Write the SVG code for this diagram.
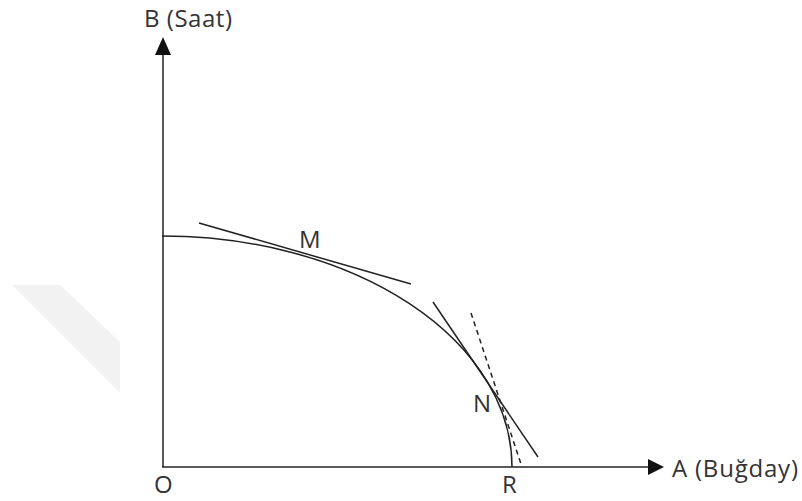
<svg xmlns="http://www.w3.org/2000/svg" width="802" height="501" viewBox="0 0 802 501">
<style>
.ln{stroke:#222;stroke-width:1.5;fill:none}
.t{font-family:"Open Sans","Liberation Sans",sans-serif;font-size:24px;fill:#333}
</style>
<rect width="802" height="501" fill="#fff"/>
<polygon points="12,285 60,285 120,342 120,393" fill="#f2f2f2"/>
<g id="axes">
<line class="ln" x1="163" y1="50" x2="163" y2="467"/>
<polygon points="163,37 155,55 171,55" fill="#111"/>
<line class="ln" x1="162" y1="467" x2="650" y2="467"/>
<polygon points="664,467 648,459 648,475" fill="#111"/>
</g>
<g id="curve"><path class="ln" d="M162,236 A350,231 0 0 1 512,467"/></g>
<g id="connectors">
<line class="ln" x1="199" y1="223" x2="411" y2="284"/>
<line class="ln" x1="433" y1="302" x2="538" y2="457"/>
<line class="ln" x1="471" y1="313" x2="522" y2="467" stroke-dasharray="5,4"/>
</g>
<g id="labels">
<text class="t" x="144" y="27" textLength="88">B (Saat)</text>
<text class="t" x="672" y="477" textLength="126">A (Buğday)</text>
<text class="t" x="154" y="493">O</text>
<text class="t" x="502" y="493">R</text>
<text class="t" x="299" y="248">M</text>
<text class="t" x="473" y="412">N</text>
</g>
</svg>
